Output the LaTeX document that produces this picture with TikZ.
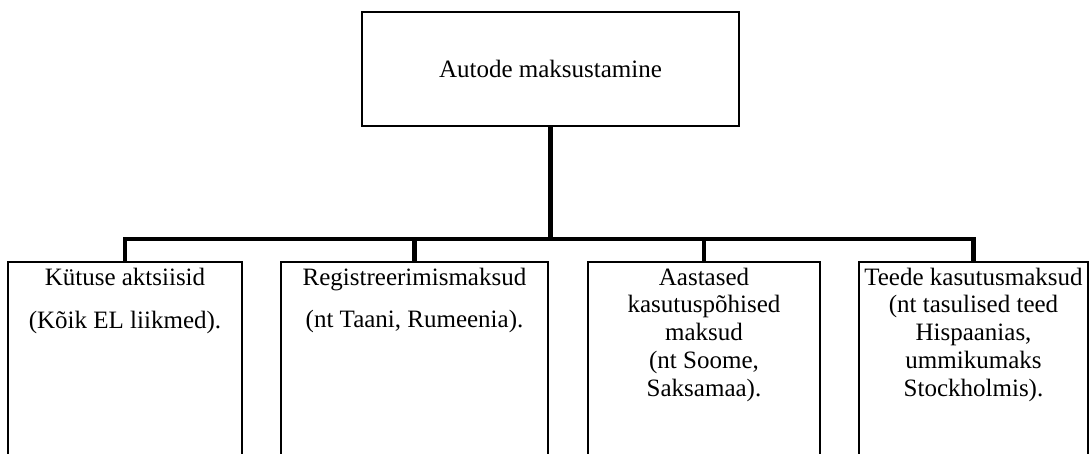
\documentclass[tikz,border=0pt]{standalone}
\usepackage{fontspec}
\setmainfont{Liberation Serif}
\begin{document}
\begin{tikzpicture}[x=1pt,y=-1pt,
  boxstyle/.style={draw=black,line width=1.3pt,rectangle,inner sep=0pt,outer sep=0pt},
  bottombox/.style={boxstyle,minimum height=260pt,anchor=north},
  txt/.style={font=\fontsize{25}{27.8}\selectfont,align=center,inner sep=0pt,anchor=north,yshift=-3.4pt},
  conn/.style={draw=black,line width=4.6pt,line join=miter}]
\useasboundingbox[fill=white] (0,0) rectangle (1092,453);
\clip (0,0) rectangle (1092,453);
% top box
\node[boxstyle,minimum width=377pt,minimum height=114pt,
      font=\fontsize{25}{27.8}\selectfont] (top) at (550.5,69) {Autode maksustamine};
% bottom boxes
\node[bottombox,minimum width=234pt] (b1) at (125,262) {};
\node[bottombox,minimum width=267pt] (b2) at (414.5,262) {};
\node[bottombox,minimum width=232pt] (b3) at (704,262) {};
\node[bottombox,minimum width=229pt] (b4) at (973.5,262) {};
% texts
\node[txt] (t1) at (b1.north) {\strut Kütuse aktsiisid\\[16pt](Kõik EL liikmed).};
\node[txt] (t2) at (b2.north) {\strut Registreerimismaksud\\[15pt](nt Taani, Rumeenia).};
\node[txt] (t3) at (b3.north) {\strut Aastased\\kasutuspõhised\\maksud\\(nt Soome,\\Saksamaa).};
\node[txt] (t4) at (b4.north) {\strut Teede kasutusmaksud\\(nt tasulised teed\\Hispaanias,\\ummikumaks\\Stockholmis).};
% connectors
\coordinate (bar) at (0,239);
\draw[conn] (b1.north) -- (b1.north |- bar) -- (b4.north |- bar) -- (b4.north);
\draw[conn] (top.south) -- (top.south |- bar);
\draw[conn] (b2.north |- bar) -- (b2.north);
\draw[conn] (b3.north |- bar) -- (b3.north);
\end{tikzpicture}
\end{document}
